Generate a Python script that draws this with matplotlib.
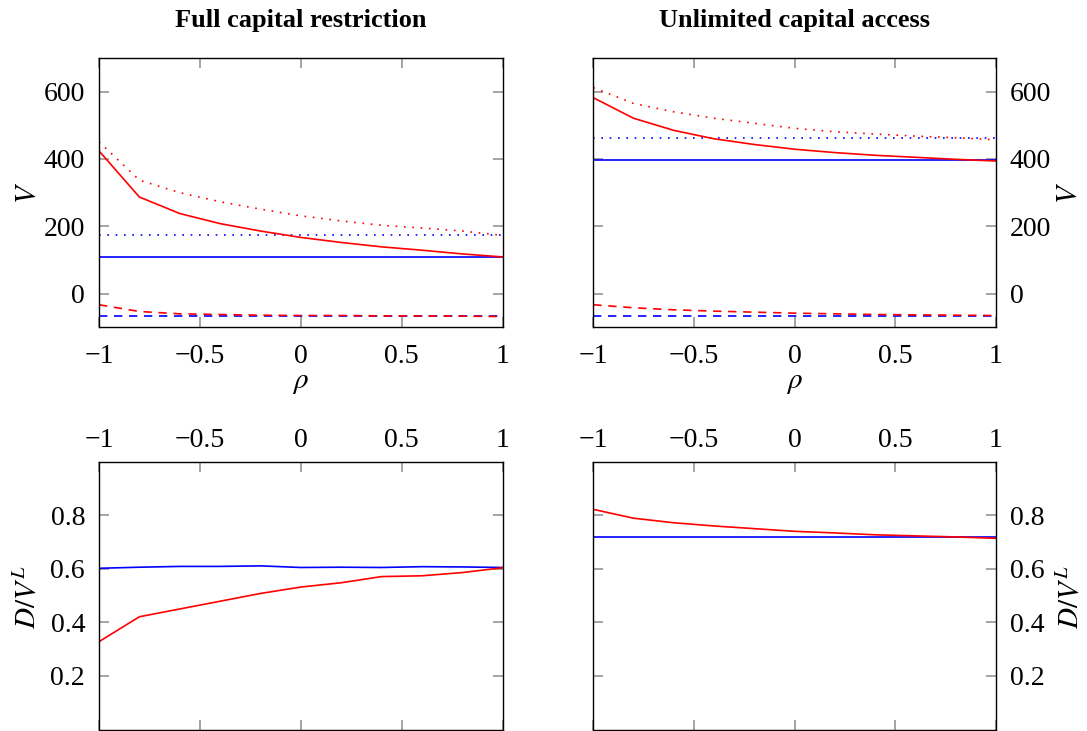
import matplotlib
matplotlib.use("Agg")
import matplotlib.pyplot as plt

plt.rcParams["font.family"] = ["Liberation Serif", "DejaVu Serif"]
plt.rcParams["mathtext.fontset"] = "stix"
plt.rcParams["axes.unicode_minus"] = True

rho = [-1.0, -0.8, -0.6, -0.4, -0.2, 0.0, 0.2, 0.4, 0.6, 0.8, 1.0]

# Full capital restriction: firm value V
v_full_red_solid = [424, 287, 238, 208, 186, 167, 152, 139, 129, 118, 109]
v_full_red_dotted = [451, 337, 300, 273, 251, 231, 216, 203, 195, 186, 173]
v_full_red_dashed = [-33, -53, -60, -62, -64, -65, -65, -66, -66, -67, -68]
v_full_blue_solid = [109, 109, 109, 109, 109, 109, 109, 109, 109, 109, 109]
v_full_blue_dotted = [174, 174, 174, 174, 174, 174, 174, 174, 174, 174, 174]
v_full_blue_dashed = [-65, -65, -65, -65, -65, -65, -65, -65, -65, -65, -65]

# Unlimited capital access: firm value V
v_unl_red_solid = [582, 521, 485, 460, 443, 429, 419, 411, 405, 399, 394]
v_unl_red_dotted = [612, 565, 540, 521, 506, 491, 481, 474, 468, 463, 457]
v_unl_red_dashed = [-33, -42, -48, -52, -55, -58, -60, -62, -63, -64, -65]
v_unl_blue_solid = [397, 397, 397, 397, 397, 397, 397, 397, 397, 397, 397]
v_unl_blue_dotted = [463, 463, 463, 463, 463, 463, 463, 463, 463, 463, 463]
v_unl_blue_dashed = [-65, -65, -65, -65, -65, -65, -65, -65, -65, -65, -65]

# Leverage D/V^L
d_full_red = [0.328, 0.421, 0.450, 0.479, 0.508, 0.532, 0.548, 0.571, 0.574, 0.586, 0.604]
d_full_blue = [0.602, 0.606, 0.609, 0.609, 0.611, 0.605, 0.606, 0.605, 0.608, 0.607, 0.605]
d_unl_red = [0.822, 0.789, 0.772, 0.760, 0.750, 0.740, 0.734, 0.727, 0.723, 0.719, 0.714]
d_unl_blue = [0.718, 0.718, 0.718, 0.718, 0.718, 0.718, 0.718, 0.718, 0.718, 0.718, 0.718]

titles = ["Full capital restriction", "Unlimited capital access"]
x_ticks = [-1, -0.5, 0, 0.5, 1]
x_ticklabels = ["\u22121", "\u22120.5", "0", "0.5", "1"]
v_ticks = [0, 200, 400, 600]
d_ticks = [0.2, 0.4, 0.6, 0.8]
d_ticklabels = ["0.2", "0.4", "0.6", "0.8"]

W, H = 1087, 731
fig = plt.figure(figsize=(W / 100, H / 100), dpi=100)

FS = 20
RED = "#ff0000"
BLUE = "#0000ff"
LW = 1.2
DASH = (0, (5, 4))
DOT = (0, (1, 4))

cols = [(99, 502.7), (593.3, 996)]
rows = [(58, 327.3), (461.7, 729.5)]


def make_axes(col, row):
    x0, x1 = cols[col]
    y0, y1 = rows[row]
    return fig.add_axes([x0 / W, 1 - y1 / H, (x1 - x0) / W, (y1 - y0) / H])


def style(ax):
    for s in ax.spines.values():
        s.set_linewidth(1.0)
        s.set_color("black")
    ax.tick_params(which="both", direction="in", length=7.5, width=1.1,
                   color="#8c8c8c", labelsize=FS, top=True, bottom=True,
                   left=True, right=True, pad=10)
    ax.set_xlim(-1, 1)
    ax.set_xticks(x_ticks)
    ax.set_xticklabels(x_ticklabels)


def place_ylabel(ax, text, xpos, ypos, right):
    ax.set_ylabel(text, fontsize=FS + 1)
    if right:
        ax.yaxis.set_label_position("right")
    ax.yaxis.set_label_coords(xpos, ypos)
    ax.yaxis.label.set_verticalalignment("center")
    ax.yaxis.label.set_horizontalalignment("center")


top_data = [
    (v_full_red_solid, v_full_red_dotted, v_full_red_dashed,
     v_full_blue_solid, v_full_blue_dotted, v_full_blue_dashed),
    (v_unl_red_solid, v_unl_red_dotted, v_unl_red_dashed,
     v_unl_blue_solid, v_unl_blue_dotted, v_unl_blue_dashed),
]
bottom_data = [(d_full_red, d_full_blue), (d_unl_red, d_unl_blue)]

for c in range(2):
    right = c == 1
    # value panels
    ax = make_axes(c, 0)
    style(ax)
    rs, rd, rdash, bs, bd, bdash = top_data[c]
    ax.plot(rho, bs, color=BLUE, lw=LW)
    ax.plot(rho, bd, color=BLUE, lw=LW, linestyle=DOT)
    ax.plot(rho, bdash, color=BLUE, lw=LW, linestyle=DASH)
    ax.plot(rho, rs, color=RED, lw=LW)
    ax.plot(rho, rd, color=RED, lw=LW, linestyle=DOT)
    ax.plot(rho, rdash, color=RED, lw=LW, linestyle=DASH)
    ax.set_ylim(-100, 700)
    ax.set_yticks(v_ticks)
    ax.tick_params(axis="x", labelbottom=True, labeltop=False, pad=12)
    ax.tick_params(axis="y", labelleft=not right, labelright=right)
    ax.set_xlabel(r"$\rho$", fontsize=FS + 1)
    ax.xaxis.set_label_coords(0.5, -0.207)
    ax.xaxis.label.set_verticalalignment("center")
    place_ylabel(ax, r"$V$", 1.18 if right else -0.176, 0.5, right)
    ax.set_title(titles[c], fontsize=19, fontweight="bold", pad=22)

    # leverage panels
    ax = make_axes(c, 1)
    style(ax)
    dr, db = bottom_data[c]
    ax.plot(rho, db, color=BLUE, lw=LW)
    ax.plot(rho, dr, color=RED, lw=LW)
    ax.set_ylim(0, 1)
    ax.set_yticks(d_ticks)
    ax.set_yticklabels(d_ticklabels)
    ax.tick_params(axis="x", labelbottom=False, labeltop=True, pad=6)
    ax.tick_params(axis="y", labelleft=not right, labelright=right)
    place_ylabel(ax, r"$D/V^L$", 1.186 if right else -0.176, 0.495, right)

fig.savefig("out.png", dpi=100)
